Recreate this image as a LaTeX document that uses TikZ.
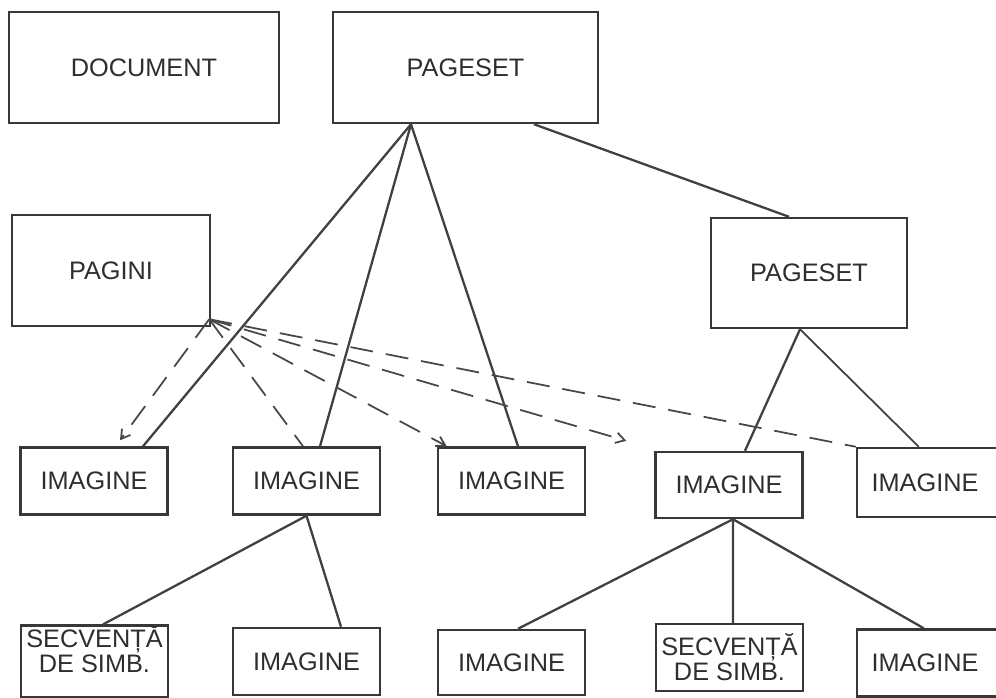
\documentclass[tikz,border=0pt]{standalone}
\usepackage{fontspec}
\setmainfont{Liberation Sans}
\usetikzlibrary{arrows.meta}
\begin{document}
\begin{tikzpicture}[x=0.02cm, y=-0.02cm,
    box/.style={draw=black!78, line width=1.4pt, inner sep=0pt, text=black!82,
      font=\fontsize{14.4}{12}\selectfont, align=center},
    big/.style={box, minimum height=2.22cm},
    small/.style={box, minimum width=2.94cm, minimum height=1.34cm},
    link/.style={draw=black!75, line width=1.3pt},
    ref/.style={draw=black!72, line width=1pt, dash pattern=on 0.46cm off 0.26cm},
    >={Straight Barb[length=5pt,width=6pt]}]
  \useasboundingbox (0,0) rectangle (996,697);
  \clip (0,0) rectangle (996,697);
  % top level
  \node[big, minimum width=5.4cm] (doc) at (144,67.5) {DOCUMENT};
  \node[big, minimum width=5.3cm] (ps1) at (465.5,67.5) {PAGESET};
  \node[big, minimum width=3.96cm] (pag) at (111,270.5) {PAGINI};
  \node[big, minimum width=3.92cm, minimum height=2.2cm] (ps2) at (809,273) {PAGESET};
  % first row of images
  \node[small] (i1) at (94,481) {IMAGINE};
  \node[small] (i2) at (306.5,481) {IMAGINE};
  \node[small] (i3) at (511.5,481) {IMAGINE};
  \node[small, minimum height=1.32cm] (i4) at (729,485) {IMAGINE};
  \node[small, minimum width=2.92cm, minimum height=1.38cm] (i5) at (930,482.5) {\hspace*{-0.2cm}IMAGINE};
  % second row
  \node[small, text depth=0.5cm] (s1) at (94.5,661.5) {SECVENȚĂ\\DE SIMB.};
  \node[small] (i6) at (306.5,661.5) {IMAGINE};
  \node[small, minimum height=1.3cm] (i7) at (511.5,662.5) {IMAGINE};
  \node[small] (s2) at (729.5,657.5) {SECVENȚĂ\\DE SIMB.};
  \node[small, minimum width=2.92cm] (i8) at (930,663) {\hspace*{-0.2cm}IMAGINE};
  % tree links
  \draw[link] ([xshift=-1.09cm]ps1.south) -- ([xshift=0.98cm]i1.north);
  \draw[link] ([xshift=-1.09cm]ps1.south) -- ([xshift=0.27cm]i2.north);
  \draw[link] ([xshift=-1.09cm]ps1.south) -- ([xshift=0.13cm]i3.north);
  \draw[link] ([xshift=1.37cm]ps1.south) -- ([xshift=-0.4cm]ps2.north);
  \draw[link] ([xshift=-0.18cm]ps2.south) -- ([xshift=0.32cm]i4.north);
  \draw[link, line width=1pt] ([xshift=-0.18cm]ps2.south) -- ([xshift=1.26cm]i5.north west);
  \draw[link] (i2.south) -- ([xshift=0.17cm]s1.north);
  \draw[link] (i2.south) -- ([xshift=0.69cm]i6.north);
  \draw[link] ([xshift=0.08cm]i4.south) -- ([xshift=0.13cm]i7.north);
  \draw[link] ([xshift=0.08cm]i4.south) -- ([xshift=0.07cm]s2.north);
  \draw[link] ([xshift=0.08cm]i4.south) -- ([xshift=1.36cm]i8.north west);
  % dashed references from PAGINI
  \coordinate (fan) at ([xshift=-0.04cm,yshift=0.16cm]pag.south east);
  \draw[ref, ->] (fan) -- ([xshift=0.52cm,yshift=0.12cm]i1.north);
  \draw[ref] (fan) -- ([xshift=-0.07cm]i2.north);
  \draw[ref, ->] (fan) -- ([xshift=0.2cm]i3.north west);
  \draw[ref, ->] (fan) -- ([xshift=-0.56cm,yshift=0.2cm]i4.north west);
  \draw[ref] (fan) -- (i5.north west);
\end{tikzpicture}
\end{document}
